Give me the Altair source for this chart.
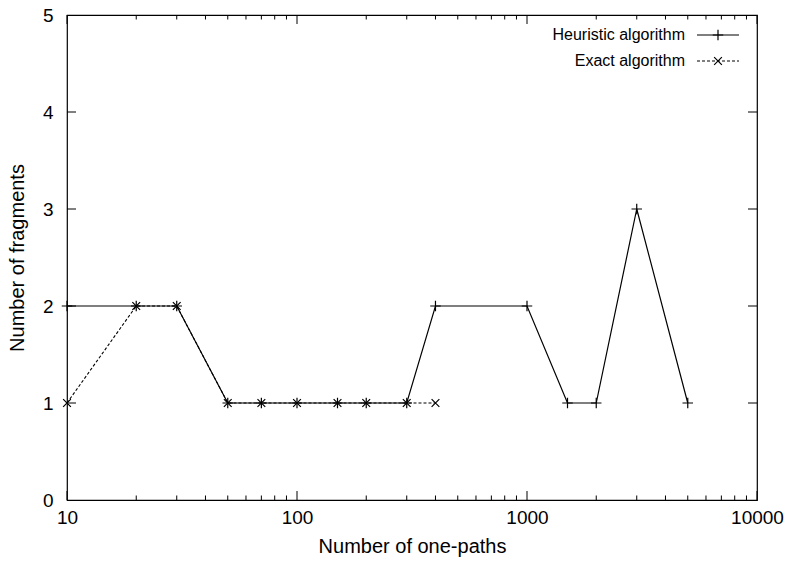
import altair as alt
import pandas as pd

heur_x = [10, 20, 30, 50, 70, 100, 150, 200, 300, 400, 1000, 1500, 2000, 3000, 5000]
heur_y = [2, 2, 2, 1, 1, 1, 1, 1, 1, 2, 2, 1, 1, 3, 1]
exact_x = [10, 20, 30, 50, 70, 100, 150, 200, 300, 400]
exact_y = [1, 2, 2, 1, 1, 1, 1, 1, 1, 1]

x_major = [10, 100, 1000, 10000]
x_minor = [20, 30, 40, 50, 60, 70, 80, 90,
           200, 300, 400, 500, 600, 700, 800, 900,
           2000, 3000, 4000, 5000, 6000, 7000, 8000, 9000]
y_ticks = [0, 1, 2, 3, 4, 5]
legend_labels = ["Heuristic algorithm", "Exact algorithm"]

W, H = 690, 485
FONT = "Liberation Sans"

heur = pd.DataFrame({"x": heur_x, "y": heur_y})
exact = pd.DataFrame({"x": exact_x, "y": exact_y})

xscale = alt.Scale(type="log", domain=[10, 10000], nice=False)
yscale = alt.Scale(domain=[0, 5], nice=False, zero=False)

xaxis = alt.Axis(values=x_major, format="d", title="Number of one-paths",
                 domain=False, ticks=False, grid=False, labelFlush=False,
                 labelFontSize=19, labelPadding=8, labelFont=FONT, labelColor="black",
                 titleFontSize=20, titleFont=FONT, titleFontWeight="normal",
                 titleColor="black", titlePadding=9)
yaxis = alt.Axis(values=y_ticks, format="d", title="Number of fragments",
                 domain=False, ticks=False, grid=False, labelFlush=False,
                 labelFontSize=19, labelPadding=14, labelFont=FONT, labelColor="black",
                 titleFontSize=20, titleFont=FONT, titleFontWeight="normal",
                 titleColor="black", titlePadding=15)
X = alt.X("x:Q", scale=xscale, axis=xaxis)
Y = alt.Y("y:Q", scale=yscale, axis=yaxis)

PLUS = "M-1,0L1,0M0,-1L0,1"
CROSS = "M-1,-1L1,1M-1,1L1,-1"

heur_line = alt.Chart(heur).mark_line(color="black", strokeWidth=1.2).encode(x=X, y=Y)
heur_pts = alt.Chart(heur).mark_point(shape=PLUS, filled=False, color="black",
                                      strokeWidth=1.2, size=110, opacity=1).encode(x=X, y=Y)
exact_line = alt.Chart(exact).mark_line(color="black", strokeWidth=1.1,
                                        strokeDash=[3, 2]).encode(x=X, y=Y)
exact_pts = alt.Chart(exact).mark_point(shape=CROSS, filled=False, color="black",
                                        strokeWidth=1.2, size=60, opacity=1).encode(x=X, y=Y)

# inward ticks (gnuplot style), mirrored on all sides
xmaj_df = pd.DataFrame({"x": x_major})
xmin_df = pd.DataFrame({"x": x_minor})
yt_df = pd.DataFrame({"y": y_ticks[1:-1]})


def xtick(df, y0, y1):
    return alt.Chart(df).mark_rule(color="black", strokeWidth=1).encode(
        x=X, y=alt.value(y0), y2=alt.value(y1))


def ytick(df, x0, x1):
    return alt.Chart(df).mark_rule(color="black", strokeWidth=1).encode(
        y=Y, x=alt.value(x0), x2=alt.value(x1))


ticks = [
    xtick(xmaj_df, H, H - 9), xtick(xmaj_df, 0, 9),
    xtick(xmin_df, H, H - 4.5), xtick(xmin_df, 0, 4.5),
    ytick(yt_df, 0, 9), ytick(yt_df, W, W - 9),
]

# legend (top-right inside)
leg_layers = []
rows = [20, 46]
for i, (lab, yy) in enumerate(zip(legend_labels, rows)):
    d = pd.DataFrame({"label": [lab]})
    leg_layers.append(alt.Chart(d).mark_text(align="right", baseline="middle", font=FONT,
                                             fontSize=16, color="black").encode(
        text="label:N", x=alt.value(618), y=alt.value(yy)))
    leg_layers.append(alt.Chart(d).mark_rule(color="black", strokeWidth=1.1,
                                             strokeDash=[1, 0] if i == 0 else [3, 2]).encode(
        x=alt.value(630), x2=alt.value(672), y=alt.value(yy)))
    leg_layers.append(alt.Chart(d).mark_point(shape=PLUS if i == 0 else CROSS, filled=False,
                                              color="black", strokeWidth=1.2,
                                              size=110 if i == 0 else 60, opacity=1).encode(
        x=alt.value(651), y=alt.value(yy)))

chart = alt.layer(heur_line, exact_line, heur_pts, exact_pts, *ticks, *leg_layers).properties(
    width=W, height=H,
    autosize=alt.AutoSizeParams(type="none"),
    padding={"left": 67, "top": 15, "right": 36, "bottom": 64},
    background="white",
).configure_view(stroke="black", strokeWidth=1.2)

chart.save("out.html", embed_options={"renderer": "svg", "actions": False})
